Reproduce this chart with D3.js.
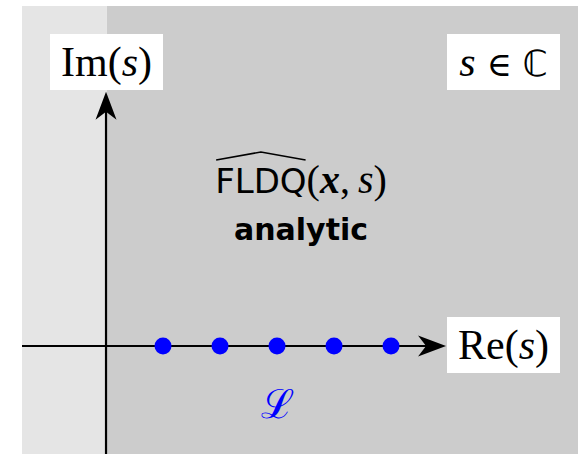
<!DOCTYPE html>
<html>
<head>
<meta charset="utf-8">
<script src="https://cdn.jsdelivr.net/npm/d3@7"></script>
<style>
  html, body { margin: 0; padding: 0; background: #fff; }
  svg { display: block; }
</style>
</head>
<body>
<div id="chart"></div>
<script>
// points of the set L, placed on the real axis
const latticePoints = [1, 2, 3, 4, 5];
// extent of the complex plane shown
const reDomain = [-1.474, 8.28];
const imDomain = [-1.895, 5.965];
const reAxisEnd = 5.965;
const imAxisEnd = 4.46;

const axisLabels = {re: "Re", im: "Im"};
const centerTitle = "FLDQ";
const centerNote = "analytic";
const setName = "\u2112";

const SERIF = "'Liberation Serif', 'DejaVu Serif', serif";
const SANS = "'DejaVu Sans', sans-serif";

const width = 578, height = 454;
const panel = {left: 22, top: 6};

const svg = d3.select("#chart").append("svg")
  .attr("width", width)
  .attr("height", height);

const x = d3.scaleLinear().domain(reDomain).range([panel.left, width]);
const y = d3.scaleLinear().domain(imDomain).range([height, panel.top]);

// half-planes: Re < 0 lighter, Re > 0 darker
svg.append("rect")
  .attr("x", x(reDomain[0])).attr("y", y(imDomain[1]))
  .attr("width", x(0) - x(reDomain[0]))
  .attr("height", y(imDomain[0]) - y(imDomain[1]))
  .attr("fill", "#e5e5e5");
svg.append("rect")
  .attr("x", x(0) + 0.5).attr("y", y(imDomain[1]))
  .attr("width", x(reDomain[1]) - x(0))
  .attr("height", y(imDomain[0]) - y(imDomain[1]))
  .attr("fill", "#cccccc");

const arrowHead = "M0,0 L-28,-10.5 L-20,0 L-28,10.5 Z";

// real axis
svg.append("line")
  .attr("x1", x(reDomain[0])).attr("x2", x(reAxisEnd) - 18)
  .attr("y1", y(0)).attr("y2", y(0))
  .attr("stroke", "#000").attr("stroke-width", 2.2);
svg.append("path")
  .attr("d", arrowHead)
  .attr("transform", `translate(${x(reAxisEnd)},${y(0)})`)
  .attr("fill", "#000");

// imaginary axis
svg.append("line")
  .attr("x1", x(0)).attr("x2", x(0))
  .attr("y1", y(imDomain[0])).attr("y2", y(imAxisEnd) + 18)
  .attr("stroke", "#000").attr("stroke-width", 2.2);
svg.append("path")
  .attr("d", arrowHead)
  .attr("transform", `translate(${x(0)},${y(imAxisEnd)}) rotate(-90)`)
  .attr("fill", "#000");

// points
svg.selectAll("circle.pt")
  .data(latticePoints)
  .enter().append("circle")
  .attr("class", "pt")
  .attr("cx", d => x(d))
  .attr("cy", y(0))
  .attr("r", 8.5)
  .attr("fill", "#0000ff");

// white label boxes
function labelBox(cx, cy, w, h) {
  svg.append("rect")
    .attr("x", cx - w / 2).attr("y", cy - h / 2)
    .attr("width", w).attr("height", h)
    .attr("fill", "#fff");
  return svg.append("text")
    .attr("font-family", SERIF)
    .attr("x", cx).attr("y", cy + 14)
    .attr("text-anchor", "middle")
    .attr("font-size", 42)
    .attr("fill", "#000");
}

const imLabel = labelBox(106.5, 62, 113, 56);
imLabel.append("tspan").text(axisLabels.im);
imLabel.append("tspan").text("(");
imLabel.append("tspan").attr("font-style", "italic").text("s");
imLabel.append("tspan").text(")");

const reLabel = labelBox(503.5, 345, 113, 56);
reLabel.append("tspan").text(axisLabels.re);
reLabel.append("tspan").text("(");
reLabel.append("tspan").attr("font-style", "italic").text("s");
reLabel.append("tspan").text(")");

const cLabel = labelBox(503.5, 62, 113, 56);
cLabel.append("tspan").attr("font-style", "italic").text("s");
cLabel.append("tspan").attr("font-family", "DejaVu Serif").attr("font-size", 34).text(" \u2208 ");
cLabel.append("tspan").attr("font-family", "DejaVu Sans").attr("font-size", 36).text("\u2102");

// center annotation
const title = svg.append("text")
  .attr("x", 301).attr("y", 193)
  .attr("text-anchor", "middle")
  .attr("font-size", 40);
const hatSpan = title.append("tspan").attr("font-family", SANS).attr("font-size", 34).text(centerTitle);
title.append("tspan").attr("font-family", SERIF).text("(");
title.append("tspan").attr("font-family", SERIF).attr("font-style", "italic").attr("font-weight", "bold").text("x");
title.append("tspan").attr("font-family", SERIF).text(",\u2009");
title.append("tspan").attr("font-family", SERIF).attr("font-style", "italic").text("s");
title.append("tspan").attr("font-family", SERIF).text(")");

// wide hat over FLDQ
const hs = hatSpan.node();
const n = hs.getNumberOfChars();
const s0 = hs.getStartPositionOfChar(0).x;
const e0 = hs.getEndPositionOfChar(n - 1).x;
const hatMid = (s0 + e0) / 2;
svg.append("path")
  .attr("d", `M${s0 + 1},160 L${hatMid},152 L${e0 - 1},160`)
  .attr("fill", "none")
  .attr("stroke", "#000")
  .attr("stroke-width", 1.6);

svg.append("text")
  .attr("font-family", SANS)
  .attr("x", 301).attr("y", 240)
  .attr("text-anchor", "middle")
  .attr("font-size", 30)
  .attr("font-weight", "bold")
  .text(centerNote);

// set name under the points
svg.append("text")
  .attr("font-family", SERIF)
  .attr("x", x(3)).attr("y", 418)
  .attr("text-anchor", "middle")
  .attr("font-size", 40)
  .attr("fill", "#0000ff")
  .text(setName);
</script>
</body>
</html>
